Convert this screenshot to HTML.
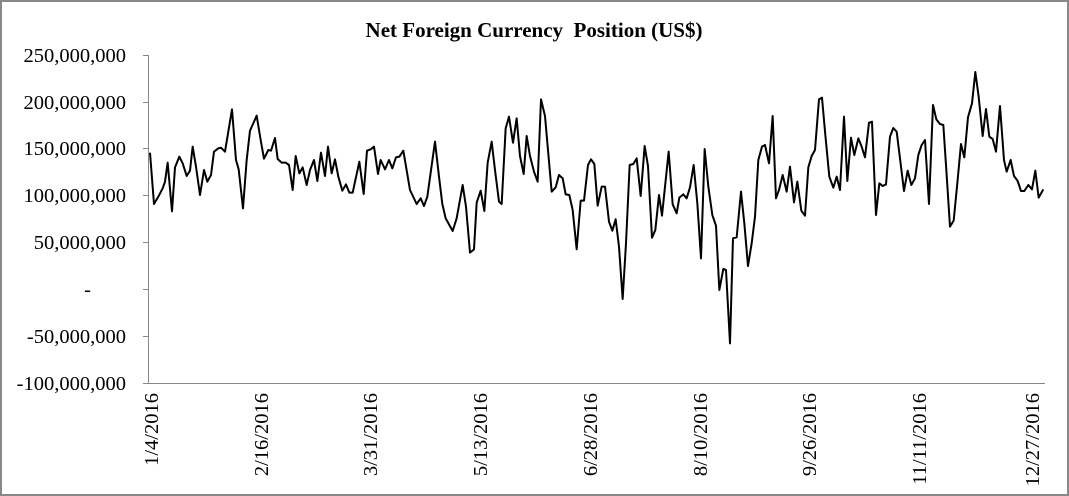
<!DOCTYPE html>
<html><head><meta charset="utf-8"><style>
html,body{margin:0;padding:0;background:#fff}
svg{display:block}
text{font-family:"Liberation Serif",serif;fill:#000}
</style></head><body>
<svg width="1069" height="496" viewBox="0 0 1069 496">
<rect x="1" y="1" width="1067" height="494" fill="#fff" stroke="#888" stroke-width="2"/>
<text x="534" y="37" font-size="21" font-weight="bold" text-anchor="middle" xml:space="preserve" style="white-space:pre">Net Foreign Currency  Position (US$)</text>
<g stroke="#888" stroke-width="1" fill="none">
<line x1="148.5" y1="55" x2="148.5" y2="383"/>
<line x1="148" y1="383.5" x2="1045" y2="383.5"/>
<line x1="143" y1="55.5" x2="148" y2="55.5"/>
<line x1="143" y1="102.5" x2="148" y2="102.5"/>
<line x1="143" y1="148.5" x2="148" y2="148.5"/>
<line x1="143" y1="195.5" x2="148" y2="195.5"/>
<line x1="143" y1="242.5" x2="148" y2="242.5"/>
<line x1="143" y1="289.5" x2="148" y2="289.5"/>
<line x1="143" y1="336.5" x2="148" y2="336.5"/>
<line x1="143" y1="383.5" x2="148" y2="383.5"/>
</g>
<g font-size="20.5" text-anchor="end">
<text x="126" y="62">250,000,000</text>
<text x="126" y="109">200,000,000</text>
<text x="126" y="155">150,000,000</text>
<text x="126" y="202">100,000,000</text>
<text x="126" y="249">50,000,000</text>
<text x="91" y="296">-</text>
<text x="126" y="343">-50,000,000</text>
<text x="126" y="390">-100,000,000</text>
</g>
<g font-size="20.5" text-anchor="end">
<text transform="translate(158,393) rotate(-90)">1/4/2016</text>
<text transform="translate(268,393) rotate(-90)">2/16/2016</text>
<text transform="translate(377,393) rotate(-90)">3/31/2016</text>
<text transform="translate(487,393) rotate(-90)">5/13/2016</text>
<text transform="translate(597,393) rotate(-90)">6/28/2016</text>
<text transform="translate(707,393) rotate(-90)">8/10/2016</text>
<text transform="translate(816,393) rotate(-90)">9/26/2016</text>
<text transform="translate(926,393) rotate(-90)">11/11/2016</text>
<text transform="translate(1039,393) rotate(-90)">12/27/2016</text>
</g>
<g transform="translate(140,50) scale(0.33333)" fill="none" stroke="#000" stroke-width="2" stroke-linejoin="round">
<polyline vector-effect="non-scaling-stroke" points="30,308 42,462 55,440 68,415 75,395 83,338 96,484 105,352 118,320 128,340 140,378 150,362 158,290 168,350 180,435 192,360 202,395 213,375 222,305 235,295 243,293 255,305 276,178 288,330 296,358 309,475 320,330 330,242 350,197 362,270 372,326 385,300 393,302 405,264 413,327 425,338 437,338 447,345 458,420 467,318 478,370 488,352 500,405 510,360 522,330 532,393 543,308 555,378 564,290 575,370 585,328 595,380 607,422 618,403 628,428 638,428 658,335 671,432 681,302 692,298 702,290 714,372 722,330 735,358 747,330 757,355 768,322 778,320 790,302 810,420 830,462 842,445 852,468 862,440 885,275 897,380 907,462 917,505 938,543 950,505 968,405 978,470 990,608 1002,598 1010,458 1022,422 1033,483 1043,338 1055,275 1065,360 1077,455 1085,462 1097,235 1107,200 1119,278 1130,205 1140,318 1151,372 1160,258 1170,318 1182,365 1193,395 1203,148 1215,198 1235,425 1247,412 1257,375 1268,385 1277,433 1288,435 1298,480 1310,598 1322,452 1332,452 1344,345 1353,328 1363,342 1373,467 1385,410 1395,410 1407,515 1417,542 1427,508 1437,590 1448,747 1458,580 1469,345 1480,342 1490,325 1502,438 1514,288 1524,348 1536,563 1546,540 1557,435 1566,497 1586,305 1598,463 1610,490 1618,443 1630,433 1640,445 1650,412 1661,345 1672,460 1683,625 1694,297 1705,410 1717,495 1728,527 1738,720 1750,657 1758,660 1770,880 1779,565 1790,562 1803,425 1813,520 1824,648 1835,580 1845,500 1855,330 1866,290 1875,285 1887,340 1898,198 1908,445 1917,420 1928,375 1940,425 1950,350 1962,457 1972,395 1984,482 1995,497 2005,352 2015,318 2025,300 2037,148 2046,143 2056,255 2068,380 2080,413 2090,380 2100,420 2112,200 2122,393 2133,263 2143,315 2155,265 2165,290 2175,322 2187,218 2196,215 2208,495 2218,400 2228,408 2238,403 2250,260 2260,234 2270,245 2280,325 2292,423 2303,362 2314,405 2325,385 2335,315 2345,285 2355,270 2367,462 2379,165 2389,208 2400,222 2410,225 2420,375 2430,530 2441,512 2451,410 2463,282 2473,322 2484,202 2496,160 2506,66 2516,140 2528,258 2538,177 2548,260 2558,267 2568,305 2580,168 2592,330 2600,365 2612,330 2622,378 2633,393 2643,423 2653,423 2665,405 2676,418 2686,362 2696,443 2710,418"/>
</g>
</svg>
</body></html>
